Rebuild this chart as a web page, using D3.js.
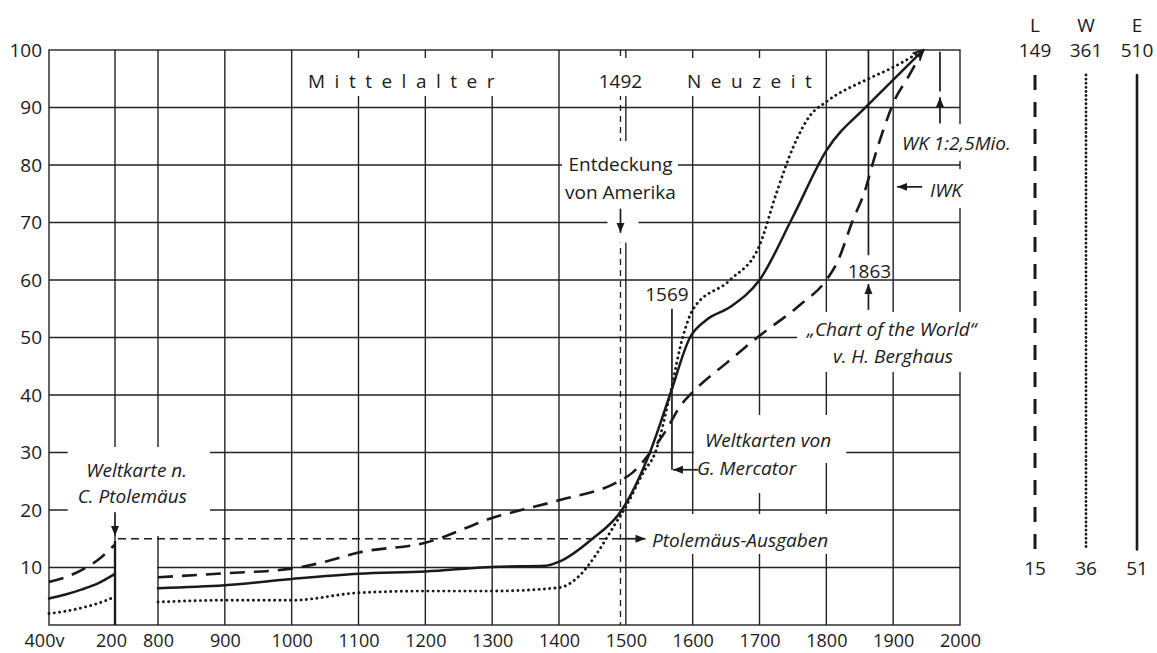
<!DOCTYPE html>
<html>
<head>
<meta charset="utf-8">
<script src="https://cdn.jsdelivr.net/npm/d3@7"></script>
<style>
body { margin: 0; background: #fff; }
text { font-family: "Open Sans", sans-serif; font-weight: 500; fill: #1a1a1a; }
</style>
</head>
<body>
<svg id="chart" width="1157" height="653"></svg>
<script>
// ---- data ----
const yTicks = [10, 20, 30, 40, 50, 60, 70, 80, 90, 100]
const xTicks = [-400, 200, 800, 900, 1000, 1100, 1200, 1300, 1400, 1500, 1600, 1700, 1800, 1900, 2000]
const xTickLabels = ["400v", "200", "800", "900", "1000", "1100", "1200", "1300", "1400", "1500", "1600", "1700", "1800", "1900", "2000"]

// antiquity segment (400 v. Chr. - 200 n. Chr.)
const ancientYears = [-400, -250, -100, 50, 200]
const landAncient = [7.5, 8.3, 9.6, 11.4, 14.0]
const earthAncient = [4.6, 5.3, 6.2, 7.3, 8.9]
const waterAncient = [2.0, 2.4, 3.0, 3.8, 4.9]

// 800 - today
const landYears = [800, 900, 1000, 1050, 1100, 1200, 1300, 1400, 1488, 1510, 1540, 1561, 1581, 1600, 1650, 1700, 1760, 1800, 1816, 1840, 1858, 1870, 1885, 1903, 1921, 1945]
const landValues = [8.3, 9.0, 9.8, 11.0, 12.6, 14.3, 18.6, 21.7, 24.9, 26.5, 30.5, 34, 38, 40.5, 45.5, 50.3, 55.6, 60, 63, 70.5, 75.6, 80.5, 86, 91.5, 95, 100]

const earthYears = [800, 900, 1000, 1100, 1200, 1300, 1380, 1400, 1450, 1494, 1536, 1566, 1596, 1620, 1656, 1700, 1750, 1800, 1862, 1900, 1945]
const earthValues = [6.4, 6.9, 8.0, 8.9, 9.3, 10.1, 10.3, 11, 15, 20, 30, 40, 50, 53, 55.3, 60, 71, 82.5, 90.4, 94.8, 100]

const waterYears = [800, 900, 1000, 1100, 1200, 1300, 1400, 1430, 1457, 1481, 1502, 1526, 1544, 1566, 1585, 1601, 1656, 1700, 1725, 1750, 1775, 1800, 1863, 1900, 1945]
const waterValues = [4.0, 4.3, 4.3, 5.6, 5.9, 5.9, 6.5, 8.5, 12.5, 17, 21, 26.5, 30, 40, 50, 55, 60, 66, 75, 83, 88.5, 91, 95, 97, 100]

// right hand scale: Mio. km2 at 100 % and 10 %
const legendKeys = ["L", "W", "E"]
const legendTop = [149, 361, 510]
const legendBottom = [15, 36, 51]

const styles = {
    L: { dash: "15,9", width: 2.6, cap: "butt", legendDash: "15,12", legendWidth: 3 },
    W: { dash: "0.1,5.2", width: 2.9, cap: "round", legendDash: "0.1,4", legendWidth: 2.8 },
    E: { dash: null, width: 2.5, cap: "round", legendDash: null, legendWidth: 2.6 }
}

const ink = "#1a1a1a"

// SVG element
const svg = d3.select("#chart")

// X scale: broken axis, antiquity squeezed in front of 800
const x = d3.scaleLinear()
    .domain([-400, 200, 800, 2000])
    .range([49, 115, 158, 960])

// Y scale
const y = d3.scaleLinear()
    .domain([0, 100])
    .range([625, 50])

const defs = svg.append("defs")
defs.append("marker")
    .attr("id", "arrow")
    .attr("viewBox", "0 -5 10 10")
    .attr("refX", 10).attr("refY", 0)
    .attr("markerWidth", 10).attr("markerHeight", 10)
    .attr("markerUnits", "userSpaceOnUse")
    .attr("orient", "auto")
    .append("path").attr("d", "M0,-4L10,0L0,4Z").attr("fill", ink)
defs.append("marker")
    .attr("id", "chev")
    .attr("viewBox", "0 -6 12 12")
    .attr("refX", 11).attr("refY", 0)
    .attr("markerWidth", 12).attr("markerHeight", 12)
    .attr("markerUnits", "userSpaceOnUse")
    .attr("orient", "auto")
    .append("path").attr("d", "M1,-5L11,0L1,5").attr("fill", "none").attr("stroke", ink).attr("stroke-width", 2)

// layers
const gridG = svg.append("g")
const refG = svg.append("g")
const maskG = svg.append("g").attr("fill", "#fff")
const curveG = svg.append("g")
const annoG = svg.append("g").attr("stroke", ink).attr("stroke-width", 1.7).attr("fill", "none")
const textG = svg.append("g").style("font-size", "19px")

// grid
gridG.attr("stroke", "#222").attr("stroke-width", 1.4)
gridG.selectAll(".h")
    .data(yTicks.filter(d => d < 100))
    .enter().append("line")
    .attr("x1", x(-400)).attr("x2", x(2000))
    .attr("y1", d => y(d)).attr("y2", d => y(d))
gridG.selectAll(".v")
    .data(xTicks.slice(1, -1))
    .enter().append("line")
    .attr("x1", d => x(d)).attr("x2", d => x(d))
    .attr("y1", y(100)).attr("y2", y(0))
gridG.append("rect")
    .attr("x", x(-400)).attr("y", y(100))
    .attr("width", x(2000) - x(-400)).attr("height", y(0) - y(100))
    .attr("fill", "none")

// 1492 and the Ptolemaeus level
refG.attr("stroke", ink).attr("stroke-width", 1.3).attr("fill", "none")
refG.append("line")
    .attr("x1", x(1492)).attr("x2", x(1492))
    .attr("y1", y(100)).attr("y2", y(0))
    .attr("stroke-dasharray", "6,5")
refG.append("line")
    .attr("x1", x(200) + 3).attr("x2", x(1492))
    .attr("y1", y(15)).attr("y2", y(15))
    .attr("stroke-dasharray", "8,5")

// axes
const xAxis = d3.axisBottom(x)
    .tickValues(xTicks)
    .tickFormat((d, i) => xTickLabels[i])
    .tickSize(0).tickPadding(9)
const yAxis = d3.axisLeft(y)
    .tickValues(yTicks)
    .tickSize(0).tickPadding(7)

const gx = svg.append("g")
    .attr("transform", `translate(0, ${y(0)})`)
    .call(xAxis)
gx.select(".domain").remove()
gx.selectAll("text")
    .style("font-family", "'Open Sans', sans-serif").style("font-size", "18px").attr("fill", ink)
    .attr("dx", d => d === -400 ? -5 : d === 200 ? -4 : 0)

const gy = svg.append("g")
    .attr("transform", `translate(${x(-400)}, 0)`)
    .call(yAxis)
gy.select(".domain").remove()
gy.selectAll("text")
    .style("font-family", "'Open Sans', sans-serif").style("font-size", "19px").attr("fill", ink)

// curves
const line = d3.line()
    .x(d => x(d[0]))
    .y(d => y(d[1]))
    .curve(d3.curveMonotoneX)

const series = [
    { key: "L", ancient: d3.zip(ancientYears, landAncient), modern: d3.zip(landYears, landValues) },
    { key: "W", ancient: d3.zip(ancientYears, waterAncient), modern: d3.zip(waterYears, waterValues) },
    { key: "E", ancient: d3.zip(ancientYears, earthAncient), modern: d3.zip(earthYears, earthValues) }
]

series.forEach(s => {
    const st = styles[s.key]
    ;[s.ancient, s.modern].forEach((pts, i) => {
        curveG.append("path")
            .datum(pts)
            .attr("d", line)
            .attr("fill", "none")
            .attr("stroke", ink)
            .attr("stroke-width", st.width)
            .attr("stroke-linecap", st.cap)
            .attr("stroke-dasharray", st.dash)
            .attr("marker-end", (s.key === "E" && i === 1) ? "url(#chev)" : null)
    })
})

// end of the antiquity data
curveG.append("line")
    .attr("x1", x(200)).attr("x2", x(200))
    .attr("y1", y(14.6)).attr("y2", y(0))
    .attr("stroke", ink).attr("stroke-width", 2.4)

// annotation lines and arrows
function seg(x1, y1, x2, y2, arrow) {
    annoG.append("line")
        .attr("x1", x1).attr("y1", y1).attr("x2", x2).attr("y2", y2)
        .attr("marker-end", arrow ? "url(#arrow)" : null)
}
seg(x(200), y(19.6), x(200), y(15.5), true)
seg(x(1492), y(72.4), x(1492), y(68.2), true)
seg(x(1492) + 1, y(15), x(1492) + 25, y(15), true)
seg(x(1569), y(55), x(1569), y(27))
seg(x(1569) + 26, y(27), x(1569) + 1, y(27), true)
seg(x(1863), y(100), x(1863), y(64.3))
seg(x(1863), y(54.8), x(1863), y(59.3), true)
seg(x(1970), y(99.7), x(1970), y(92.8))
seg(x(1970), y(87.2), x(1970), y(91.8), true)
seg(x(1900) + 29, y(76.2), x(1900) + 4, y(76.2), true)

// labels with a white box that cuts the grid
function label(lines, px, py, opts) {
    const t = textG.append("text")
        .attr("x", px).attr("y", py)
        .attr("text-anchor", opts.anchor || "start")
        .style("font-style", opts.italic ? "italic" : null)
        .style("letter-spacing", opts.spacing || null)
    lines.forEach((s, i) => t.append("tspan").attr("x", px).attr("dy", i ? opts.lh : 0).text(s))
    if (opts.pad) {
        const b = t.node().getBBox()
        const p = opts.pad // top right bottom left
        maskG.append("rect")
            .attr("x", b.x - p[3]).attr("y", b.y - p[0])
            .attr("width", b.width + p[1] + p[3]).attr("height", b.height + p[0] + p[2])
    }
    return t
}

label(["Mittelalter"], 308, 88, { spacing: "9.5px", pad: [10, 0, 2, 6] })
label(["1492"], x(1492), 88, { anchor: "middle", pad: [10, 5, 2, 5] })
label(["Neuzeit"], 687, 88, { spacing: "9.5px", pad: [10, 0, 2, 6] })
label(["Entdeckung", "von Amerika"], x(1492), 171, { anchor: "middle", lh: 28, pad: [10, 2, 2, 3] })
maskG.append("rect").attr("x", x(1492) - 13).attr("y", y(73)).attr("width", 31).attr("height", y(66.5) - y(73))
label(["1569"], x(1569) - 5, 301, { anchor: "middle" })
label(["1863"], x(1863) + 1, 278, { anchor: "middle" })
label(["„Chart of the World\u201C"], 807, 336, { italic: true })
label(["v. H. Berghaus"], 893, 363, { italic: true, anchor: "middle" })
maskG.append("rect").attr("x", 797).attr("y", 312).attr("width", 178).attr("height", 60)
label(["Weltkarten von"], 705, 447, { italic: true, pad: [12, 15, 10, 3] })
label(["G. Mercator"], 697, 475, { italic: true, pad: [12, 15, 12, 3] })
label(["Ptolemäus-Ausgaben"], 652, 547, { italic: true, pad: [13, 5, 1, 4] })
label(["WK 1:2,5Mio."], 902, 150, { italic: true, pad: [6, 4, 5, 3] })
label(["IWK"], 930, 197, { italic: true, pad: [8, 4, 5, 33] })
label(["Weltkarte n.", "C. Ptolemäus"], 187, 477, { italic: true, anchor: "end", lh: 26, pad: [10, 23, 27, 10] })

// gap of the broken axis
maskG.append("rect")
    .attr("x", x(200) + 1).attr("y", y(15) + 3)
    .attr("width", x(800) - x(200) - 2).attr("height", y(0) - y(15) - 4)

// right hand scale
const lx = d3.scalePoint().domain(legendKeys).range([1035, 1137])
const legG = svg.append("g").style("font-size", "19px")
legendKeys.forEach((k, i) => {
    const st = styles[k]
    legG.append("text").attr("x", lx(k)).attr("y", 32).attr("text-anchor", "middle").text(k)
    legG.append("text").attr("x", lx(k)).attr("y", y(100) + 7).attr("text-anchor", "middle").text(legendTop[i])
    legG.append("text").attr("x", lx(k)).attr("y", y(10) + 7).attr("text-anchor", "middle").text(legendBottom[i])
    legG.append("line")
        .attr("x1", lx(k)).attr("x2", lx(k))
        .attr("y1", y(100) + 25).attr("y2", y(10) - 18)
        .attr("stroke", ink)
        .attr("stroke-width", st.legendWidth)
        .attr("stroke-linecap", st.cap)
        .attr("stroke-dasharray", st.legendDash)
})
</script>
</body>
</html>
